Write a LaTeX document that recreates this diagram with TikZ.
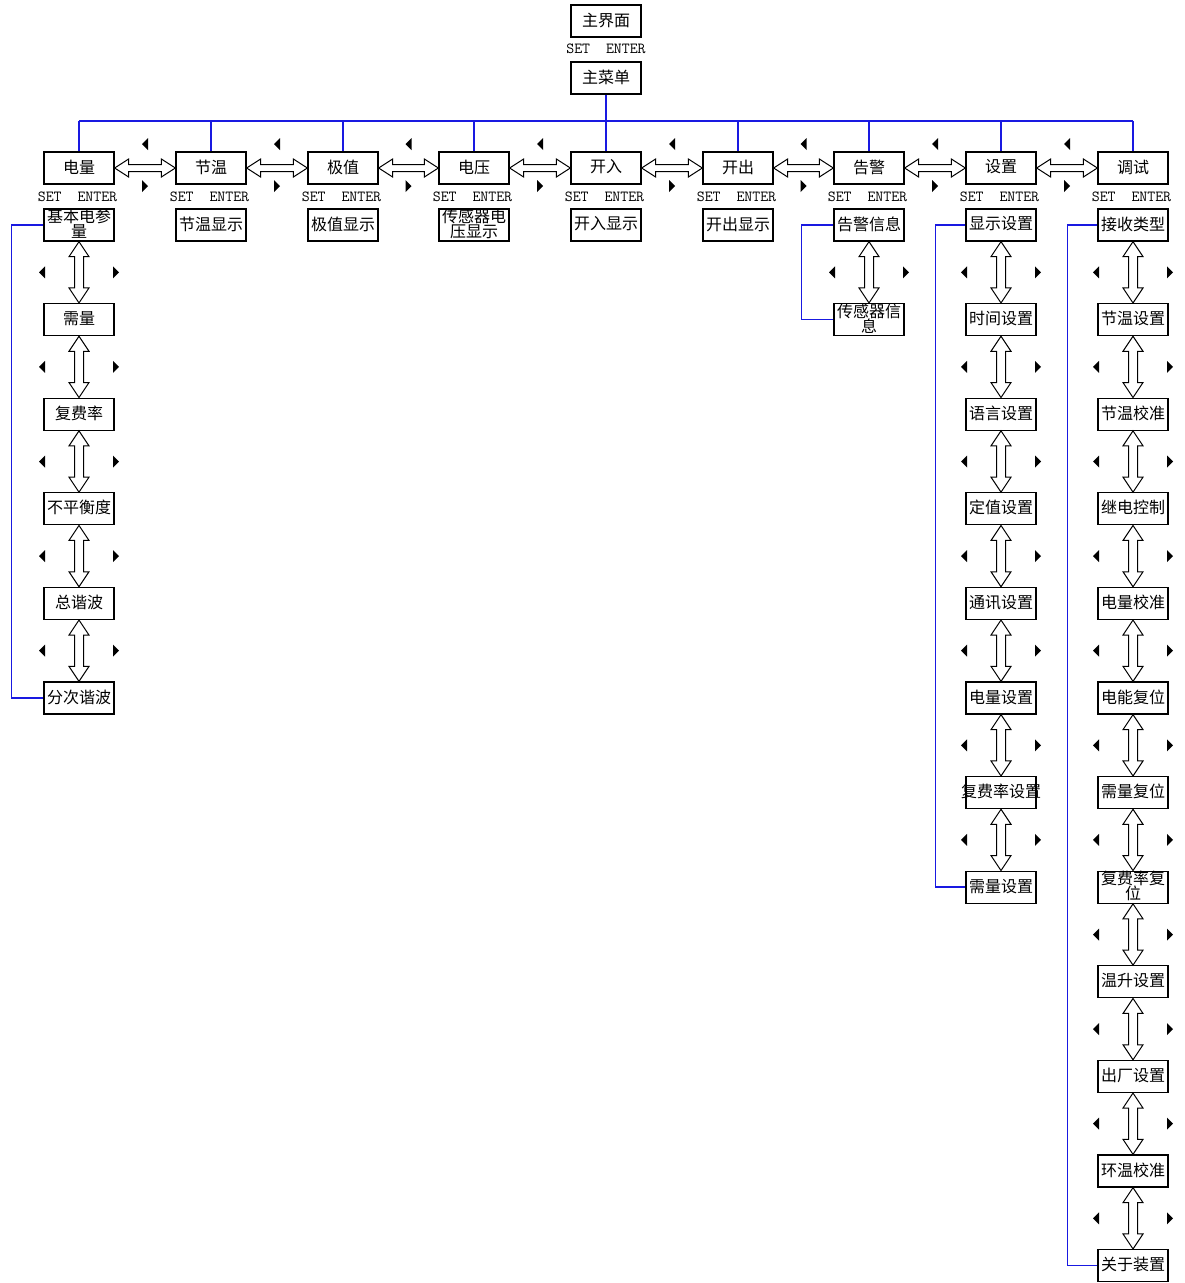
\documentclass[tikz,border=0pt]{standalone}
\usepackage{fontspec}
\newfontfamily\cjk{Noto Sans CJK SC}
\usetikzlibrary{calc}
\definecolor{bl}{RGB}{25,25,225}
\tikzset{
  mbox/.style={draw, line width=1.3pt, minimum width=70pt, minimum height=32pt, inner sep=0pt, fill=white},
  lbl/.style={font=\cjk\fontsize{16}{15}\selectfont, align=center, inner sep=0pt, yshift=1pt},
  se/.style={font=\ttfamily\fontsize{15.4}{15.4}\selectfont, inner sep=0pt},
  blu/.style={draw=bl, line width=1.6pt},
  darr/.style={draw=black, line width=1pt, fill=white, line join=miter},
}
\newcommand\harrow[2]{\draw[darr] (#1.east) -- ++(14,-9) -- ++(0,5.5) -- ($(#2.west)+(-14,-3.5)$) -- ++(0,-5.5) -- (#2.west) -- ++(-14,9) -- ++(0,-5.5) -- ($(#1.east)+(14,3.5)$) -- ++(0,5.5) -- cycle;}
\newcommand\varrow[2]{\draw[darr] (#1.south) -- ++(-10,15) -- ++(5.5,0) -- ($(#2.north)+(-4.5,-15)$) -- ++(-5.5,0) -- (#2.north) -- ++(10,-15) -- ++(-5.5,0) -- ($(#1.south)+(4.5,15)$) -- ++(5.5,0) -- cycle;}
\newcommand\ltri[1]{\fill #1 ++(3,-6) -- ++(-6,6) -- ++(6,6) -- cycle;}
\newcommand\rtri[1]{\fill #1 ++(-3,-6) -- ++(6,6) -- ++(-6,6) -- cycle;}
\newcommand\vlink[2]{\varrow{#1}{#2}\path ($(#1.south)!.5!(#2.north)$) coordinate (vm);\ltri{($(vm)+(-37,0)$)}\rtri{($(vm)+(37,0)$)}}
\newcommand\hlink[2]{\harrow{#1}{#2}\path ($(#1.east)!.5!(#2.west)$) coordinate (hm);\ltri{($(hm)+(0,-24)$)}\rtri{($(hm)+(0,18)$)}}
\begin{document}
\begin{tikzpicture}[x=1pt,y={(0pt,-1pt)}]
\useasboundingbox[fill=white] (0,0) rectangle (1185,1283);
% top
\node[mbox, label={[lbl]center:主界面}] (m0) at (606,21) {};
\node[se] at (606,49) {SET\ \ ENTER};
\node[mbox, label={[lbl]center:主菜单}] (m1) at (606,78) {};
\coordinate (bus) at (606,121);
\draw[blu] (m1.south) -- (bus);
\foreach[count=\i] \t/\x in {电量/79,节温/211,极值/343,电压/474,开入/606,开出/738,告警/869,设置/1001,调试/1133} {
  \node[mbox, label={[lbl]center:\t}] (t\i) at (\x,168) {};
  \node[se] at (\x-1.5,197) {SET\ \ ENTER};
  \draw[blu] (t\i.north) -- (t\i.north |- bus);
}
\draw[blu] (t1.north |- bus) -- (t9.north |- bus);
\foreach \i in {1,...,8} {
  \pgfmathtruncatemacro\j{\i+1}
  \hlink{t\i}{t\j}
}
% single sub-items
\node[mbox, label={[lbl]center:节温显示}] (b1) at (t2 |- 0,225) {};
\node[mbox, label={[lbl]center:极值显示}] (c1) at (t3 |- 0,225) {};
\node[mbox, label={[lbl]center:{传感器电\\压显示}}] (d1) at (t4 |- 0,225) {};
\node[mbox, label={[lbl]center:开入显示}] (e1) at (t5 |- 0,225) {};
\node[mbox, label={[lbl]center:开出显示}] (f1) at (t6 |- 0,225) {};
% column 1
\foreach[count=\k] \t in {{基本电参\\量},需量,复费率,不平衡度,总谐波,分次谐波} {
  \node[mbox, label={[lbl]center:\t}] (a\k) at (t1 |- 0,{225+94.6*(\k-1)}) {};
}
\foreach \k in {1,...,5} {\pgfmathtruncatemacro\j{\k+1}\vlink{a\k}{a\j}}
\draw[blu] (a1.west) -- ++(-32,0) |- (a6.west);
% column 7
\foreach[count=\k] \t in {告警信息,{传感器信\\息}} {
  \node[mbox, label={[lbl]center:\t}] (g\k) at (t7 |- 0,{225+94.6*(\k-1)}) {};
}
\vlink{g1}{g2}
\draw[blu] (g1.west) -- ++(-32,0) |- (g2.west);
% column 8
\foreach[count=\k] \t in {显示设置,时间设置,语言设置,定值设置,通讯设置,电量设置,复费率设置,需量设置} {
  \node[mbox, label={[lbl]center:\t}] (h\k) at (t8 |- 0,{225+94.6*(\k-1)}) {};
}
\foreach \k in {1,...,7} {\pgfmathtruncatemacro\j{\k+1}\vlink{h\k}{h\j}}
\draw[blu] (h1.west) -- ++(-30,0) |- (h8.west);
% column 9
\foreach[count=\k] \t in {接收类型,节温设置,节温校准,继电控制,电量校准,电能复位,需量复位,{复费率复\\位},温升设置,出厂设置,环温校准,关于装置} {
  \node[mbox, label={[lbl]center:\t}] (i\k) at (t9 |- 0,{225+94.6*(\k-1)}) {};
}
\foreach \k in {1,...,11} {\pgfmathtruncatemacro\j{\k+1}\vlink{i\k}{i\j}}
\draw[blu] (i1.west) -- ++(-30,0) |- (i12.west);
\end{tikzpicture}
\end{document}
